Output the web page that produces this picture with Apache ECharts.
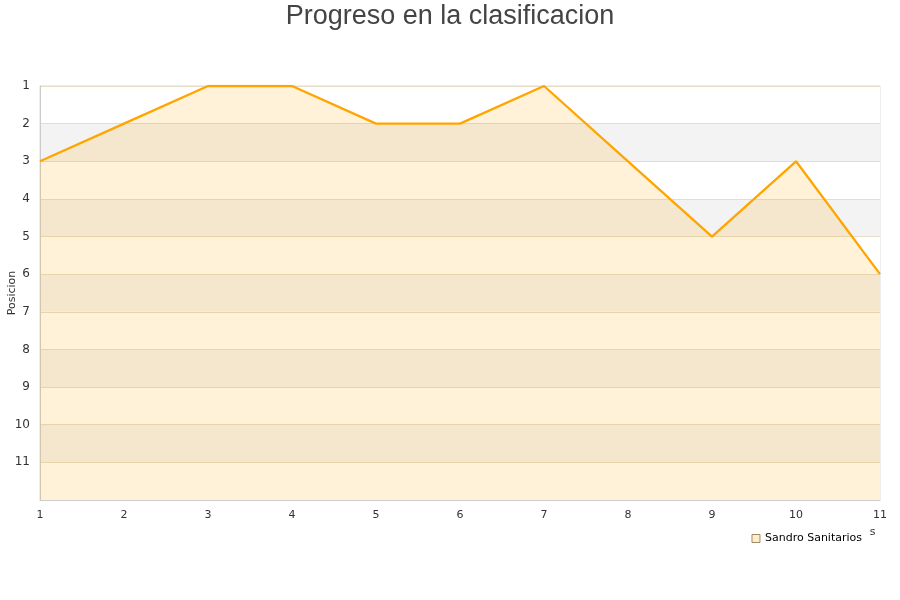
<!DOCTYPE html>
<html><head><meta charset="utf-8">
<script src="https://cdn.jsdelivr.net/npm/echarts@6/dist/echarts.min.js"></script>
<style>html,body{margin:0;padding:0;background:#fff}#c{width:900px;height:600px}</style>
</head><body><div id="c"></div>
<script>
const jornadas = [1,2,3,4,5,6,7,8,9,10,11];
const posiciones = [3,2,1,1,2,2,1,3,5,3,6];
const seriesName = 'Sandro Sanitarios';
const chartTitle = 'Progreso en la clasificacion';
const yName = 'Posicion';
const xName = 'Jornadas';

const chart = echarts.init(document.getElementById('c'), null, {renderer:'canvas'});
chart.setOption({
  animation:false,
  title:{text:chartTitle,left:'center',top:-2,textStyle:{fontFamily:'Liberation Sans',fontSize:27,fontWeight:'normal',color:'#444'}},
  grid:{left:40,right:20,top:86,bottom:100,show:true,borderColor:'#ddd',borderWidth:1,containLabel:false,outerBoundsMode:'none'},
  legend:{right:30,top:527,itemWidth:8,itemHeight:8,icon:'rect',backgroundColor:'#fff',padding:[6,8,4,4],z:20,
    textStyle:{fontFamily:'DejaVu Sans',fontSize:11,color:'#000'},
    data:[{name:seriesName,itemStyle:{color:'#ffecc9',borderColor:'#9b8a6a',borderWidth:1}}]},
  xAxis:{type:'value',min:1,max:11,interval:1,name:xName,nameLocation:'end',nameGap:-52,
    nameTextStyle:{fontFamily:'DejaVu Sans',fontSize:11,color:'#333',verticalAlign:'top',padding:[27,0,0,0]},
    axisLine:{show:true,lineStyle:{color:'#ccc'}},axisTick:{show:false},splitLine:{show:false},
    axisLabel:{fontFamily:'DejaVu Sans',fontSize:11,color:'#333',margin:10}},
  yAxis:{type:'value',inverse:true,min:1,max:12,interval:1,name:yName,nameLocation:'middle',nameGap:22,nameMoveOverlap:false,
    nameTextStyle:{fontFamily:'DejaVu Sans',fontSize:11,color:'#333'},
    axisLine:{show:true,lineStyle:{color:'#ccc'}},axisTick:{show:false},
    axisLabel:{fontFamily:'DejaVu Sans',fontSize:12,color:'#333',margin:10,formatter:v=>v>=12?'':String(v)},
    splitLine:{show:true,lineStyle:{color:'#e6dcc8',width:1}},
    splitArea:{show:true,areaStyle:{color:['#ffffff','#f3f3f3']}}},
  series:[{name:seriesName,type:'line',data:jornadas.map((j,i)=>[j,posiciones[i]]),
    showSymbol:false,symbol:'none',lineStyle:{color:'#ffa500',width:2.3},itemStyle:{color:'#ffa500'},
    areaStyle:{color:'rgba(255,165,0,0.21)',origin:'end'}}]
});
</script></body></html>
